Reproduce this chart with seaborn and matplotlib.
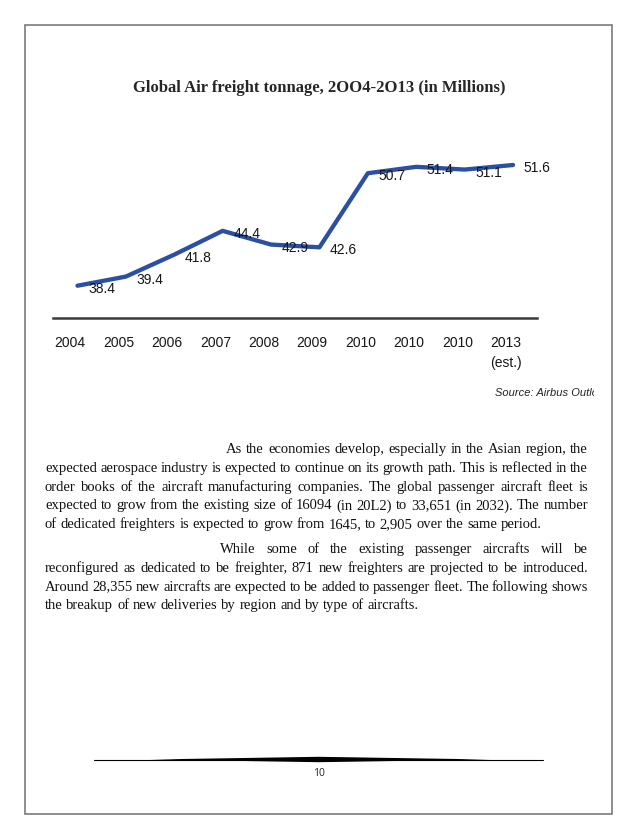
import numpy as np
import pandas as pd
import matplotlib
matplotlib.use("Agg")
import matplotlib.pyplot as plt
import seaborn as sns
from matplotlib.font_manager import FontProperties
from matplotlib.patches import Rectangle, Polygon
from matplotlib.transforms import Bbox

# chart data
years = ["2004", "2005", "2006", "2007", "2008", "2009", "2010", "2010", "2010", "2013\n(est.)"]
tonnage = [38.4, 39.4, 41.8, 44.4, 42.9, 42.6, 50.7, 51.4, 51.1, 51.6]

title = "Global Air freight tonnage, 2OO4-2O13 (in Millions)"
source = "Source: Airbus Outlook"
page_no = "10"

# body text, broken into lines as they appear on the page
para1_lines = [
    "As the economies develop, especially in the Asian region, the",
    "expected aerospace industry is expected to continue on its growth path. This is reflected in the",
    "order books of the aircraft manufacturing companies. The global passenger aircraft fleet is",
    "expected to grow from the existing size of 16094 (in 20L2) to 33,651 (in 2032). The number",
    "of dedicated freighters is expected to grow from 1645, to 2,905 over the same period.",
]
para2_lines = [
    "While some of the existing passenger aircrafts will be",
    "reconfigured as dedicated to be freighter, 871 new freighters are projected to be introduced.",
    "Around 28,355 new aircrafts are expected to be added to passenger fleet. The following shows",
    "the breakup of new deliveries by region and by type of aircrafts.",
]

W, H = 638, 826
sns.set_style("white")
plt.rcParams["font.family"] = ["Liberation Serif", "DejaVu Serif"]

fig = plt.figure(figsize=(W / 100, H / 100), dpi=100)
fig.patch.set_facecolor("white")


def fx(x):
    return x / W


def fy(y):
    return 1 - y / H


# page frame
fig.patches.append(Rectangle((fx(25), fy(814)), fx(612) - fx(25), fy(25) - fy(814),
                             transform=fig.transFigure, fill=False,
                             edgecolor="#7a7a7a", linewidth=1.2))

fig.text(fx(319), fy(88), title, ha="center", va="center",
         fontsize=12, fontweight="bold", family=["Liberation Serif"])

# --- the chart ---
chart_font = ["Liberation Sans Narrow", "Liberation Sans"]
ax = fig.add_axes([fx(53.3), fy(318), fx(537.2) - fx(53.3), fy(150) - fy(318)])
df = pd.DataFrame({"pos": np.arange(len(tonnage)), "tonnage": tonnage})
sns.lineplot(data=df, x="pos", y="tonnage", ax=ax, color="#2a4fa3",
             linewidth=3.1, solid_capstyle="round", solid_joinstyle="round")
ax.set_xlim(-0.5, 9.5)
ax.set_ylim(34.87, 53.24)
for sp in ["top", "left", "right"]:
    ax.spines[sp].set_visible(False)
ax.spines["bottom"].set_color("#3a3a3a")
ax.spines["bottom"].set_linewidth(1.8)
ax.set_yticks([])
ax.set_xticks(df["pos"] - 0.15)
ax.set_xticklabels(years, family=chart_font, fontsize=10, color="#161616",
                   linespacing=1.5)
ax.tick_params(axis="x", length=0, pad=13)
ax.set_xlabel("")
ax.set_ylabel("")
for p, v in zip(df["pos"], df["tonnage"]):
    ax.annotate(f"{v:.1f}", (p, v), xytext=(24, -3), textcoords="offset pixels",
                ha="center", va="center", family=chart_font, fontsize=10,
                color="#161616")

src = fig.text(fx(495), fy(393), source, ha="left", va="center", fontsize=8.0,
               style="italic", family=chart_font, color="#222222")
src.set_clip_box(Bbox.from_extents(0, 0, 594, H))

# --- justified body text ---
renderer = fig.canvas.get_renderer()
body_fp = FontProperties(family=["Liberation Serif"], size=10.5)


def text_w(s):
    w, _, _ = renderer.get_text_width_height_descent(s, body_fp, ismath=False)
    return w


space_w = text_w("a a") - text_w("aa")
left, right = 45, 588


def draw_paragraph(lines, first_x, y0, step):
    for i, line in enumerate(lines):
        words = line.split(" ")
        x0 = first_x if i == 0 else left
        widths = [text_w(wd) for wd in words]
        last = i == len(lines) - 1
        gap = space_w if last else (right - x0 - sum(widths)) / (len(words) - 1)
        x = x0
        y = y0 + i * step
        for wd, wdw in zip(words, widths):
            fig.text(fx(x), fy(y), wd, ha="left", va="baseline",
                     fontproperties=body_fp, color="#111111")
            x += wdw + gap


draw_paragraph(para1_lines, 226, 453, 18.8)
draw_paragraph(para2_lines, 220, 553, 18.8)

# footer ornament and page number
fig.lines.append(plt.Line2D(fx(np.array([94, 543])), fy(np.array([759.5, 759.5])),
                            transform=fig.transFigure, color="black", linewidth=0.8))
fig.patches.append(Polygon([(fx(150), fy(759.5)), (fx(319), fy(756.8)),
                            (fx(490), fy(759.5)), (fx(319), fy(762.2))],
                           closed=True, transform=fig.transFigure,
                           facecolor="black", edgecolor="none"))
fig.text(fx(319), fy(773), page_no, ha="center", va="center", fontsize=7.5,
         family=["Open Sans", "DejaVu Sans"], color="#222222")

fig.savefig("out.png", dpi=100, facecolor="white")
